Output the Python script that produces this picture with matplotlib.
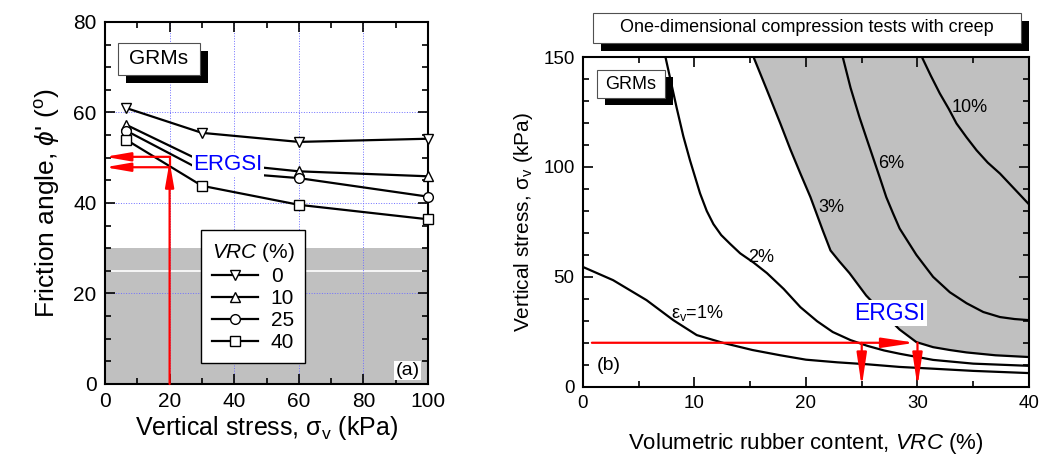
import matplotlib
matplotlib.use("Agg")
import matplotlib.pyplot as plt
from matplotlib.patches import Rectangle
from matplotlib.ticker import MultipleLocator

plt.rcParams['font.family'] = ['Liberation Sans', 'DejaVu Sans']
plt.rcParams['mathtext.fontset'] = 'custom'
plt.rcParams['mathtext.rm'] = 'Liberation Sans'
plt.rcParams['mathtext.it'] = 'Liberation Sans:italic'

# (a) friction angle vs vertical stress
stress = [6.5, 30, 60, 100]
phi_vrc0 = [61.0, 55.5, 53.5, 54.2]
phi_vrc10 = [57.3, 49.2, 47.0, 45.9]
phi_vrc25 = [56.0, 47.2, 45.5, 41.4]
phi_vrc40 = [54.0, 43.8, 39.6, 36.4]
vrc_labels = ['0', '10', '25', '40']
vrc_markers = ['v', '^', 'o', 's']

# (b) creep strain contours, VRC (%) vs vertical stress (kPa)
e1_x = [0, 2.7, 5.7, 8.1, 10.2, 12.6, 15.2, 17.7, 20.0, 22.8, 25.5, 28.4, 31.4, 35, 40]
e1_y = [54.5, 48.5, 39.4, 30.3, 23.5, 19.9, 16.7, 14.3, 12.3, 11.1, 10.2, 9.0, 8.2, 7.2, 6.2]
e2_x = [7.4, 8.4, 9.0, 9.6, 10.5, 11.1, 11.7, 12.4, 13.2, 14.1, 15.3, 16.5, 18.0, 19.5,
        21.0, 22.4, 24.0, 25.5, 27.0, 28.4, 31.4, 35, 40]
e2_y = [150, 127, 114, 103, 88, 80, 74, 69, 65, 60.7, 56.5, 51.7, 44.5, 36.2,
        29.8, 24.9, 21.2, 18.6, 16.5, 15.0, 12.2, 10.5, 9.5]
e3_x = [15.3, 16.5, 17.7, 18.6, 19.5, 20.4, 21.5, 22.2, 23.0, 23.9, 25.4, 26.9, 28.4,
        29.9, 31.4, 32.9, 34.4, 37.0, 40]
e3_y = [150, 135, 119.8, 108, 97, 86.3, 71.2, 62, 57, 51.7, 41.5, 33.5, 26.0,
        20.3, 18.0, 16.7, 15.6, 14.3, 13.5]
e6_x = [23.3, 24.0, 24.8, 25.4, 26.0, 26.6, 27.2, 27.8, 28.4, 29.9, 31.4, 32.9, 34.4, 35.9,
        37.4, 38.7, 40]
e6_y = [150, 136, 122.6, 113.5, 104.5, 95.5, 86.3, 79, 72, 60, 50, 43, 38, 34,
        31.7, 30.8, 30.3]
e10_x = [30.4, 31.2, 32.0, 32.8, 33.5, 34.4, 35.3, 36.3, 37.4, 38.7, 40]
e10_y = [150, 141.5, 133.5, 126.5, 119.8, 113.5, 107.6, 102, 97, 90, 83]

GRAY = '#c0c0c0'
RED = '#ff0000'

fig = plt.figure(figsize=(10.47, 4.59), dpi=100)
ax1 = fig.add_axes([0.1003, 0.1634, 0.3085, 0.7887])
ax2 = fig.add_axes([0.5568, 0.1575, 0.4260, 0.7180])


def box_with_shadow(ax, x0, y0, x1, y1, dx, dy, transform):
    ax.add_patch(Rectangle((x0 + dx, y0 - dy), x1 - x0, y1 - y0, transform=transform,
                           facecolor='black', edgecolor='none', zorder=8, clip_on=False))
    ax.add_patch(Rectangle((x0, y0), x1 - x0, y1 - y0, transform=transform,
                           facecolor='white', edgecolor='#505050', lw=0.8, zorder=9, clip_on=False))


def style_ticks(ax, size):
    ax.tick_params(which='both', direction='in', top=True, right=True, labelsize=size, width=1.2)
    ax.tick_params(which='major', length=7, pad=6)
    ax.tick_params(which='minor', length=4)
    for s in ax.spines.values():
        s.set_linewidth(1.5)


def red_arrow(ax, start, end, hl, hw):
    ax.annotate('', xy=end, xytext=start,
                arrowprops=dict(arrowstyle='-|>,head_length=%g,head_width=%g' % (hl, hw), color=RED,
                                lw=1.6, mutation_scale=20, shrinkA=0, shrinkB=0), zorder=4)


# ---- panel (a) ----
ax1.axhspan(0, 30, color=GRAY, lw=0, zorder=0)
ax1.axhline(25, color='white', lw=1.2, zorder=0.5)
for gx in [20, 40, 60, 80]:
    ax1.axvline(gx, color='#6f6fff', lw=0.7, ls=':', zorder=1)
for gy in [20, 40, 60]:
    ax1.axhline(gy, color='#6f6fff', lw=0.7, ls=':', zorder=1)

for ys, lab, mk in zip([phi_vrc0, phi_vrc10, phi_vrc25, phi_vrc40], vrc_labels, vrc_markers):
    ax1.plot(stress, ys, color='black', lw=1.6, marker=mk, ms=7, mfc='white', mec='black',
             mew=1.0, label=lab, zorder=3, clip_on=False)

# red arrows
red_arrow(ax1, (20, 0), (20, 49.2), 0.75, 0.13)
ax1.plot([20, 20], [48.5, 50.2], color=RED, lw=1.6, zorder=4)
red_arrow(ax1, (20, 50.2), (0, 50.2), 0.75, 0.13)
red_arrow(ax1, (20, 47.9), (0, 47.9), 0.75, 0.13)

ax1.text(38, 48.4, 'ERGSI', color='#0000ff', fontsize=16, ha='center', va='center', zorder=6,
         bbox=dict(facecolor='white', edgecolor='none', pad=1))
ax1.text(97.5, 3, '(a)', fontsize=14, ha='right', va='center', zorder=6,
         bbox=dict(facecolor='white', edgecolor='none', pad=1))

box_with_shadow(ax1, 0.040, 0.854, 0.294, 0.942, 0.024, 0.022, ax1.transAxes)
ax1.text(0.167, 0.898, 'GRMs', transform=ax1.transAxes, fontsize=15, ha='center', va='center', zorder=10)

leg = ax1.legend(title=r'$\mathit{VRC}$ (%)', loc='lower left', bbox_to_anchor=(0.266, 0.03),
                 fontsize=15, title_fontsize=15, frameon=True, fancybox=False, edgecolor='black',
                 framealpha=1, handlelength=2.2, borderpad=0.5, labelspacing=0.15, handletextpad=0.6)
leg.get_frame().set_linewidth(1.0)
leg.set_zorder(7)

ax1.set_xlim(0, 100)
ax1.set_ylim(0, 80)
ax1.xaxis.set_major_locator(MultipleLocator(20))
ax1.xaxis.set_minor_locator(MultipleLocator(10))
ax1.yaxis.set_major_locator(MultipleLocator(20))
ax1.yaxis.set_minor_locator(MultipleLocator(5))
style_ticks(ax1, 15)
ax1.set_xlabel('Vertical stress, σ$_\\mathrm{v}$ (kPa)', fontsize=18, labelpad=2)
ax1.set_ylabel("Friction angle, $\\mathit{\\phi}$' ($^\\mathrm{o}$)", fontsize=19, labelpad=8)

# ---- panel (b) ----
ax2.fill_betweenx(e3_y, e3_x, 40, color=GRAY, lw=0, zorder=0)
for cx, cy in [(e1_x, e1_y), (e2_x, e2_y), (e3_x, e3_y), (e6_x, e6_y), (e10_x, e10_y)]:
    ax2.plot(cx, cy, color='black', lw=1.6, zorder=3, solid_joinstyle='round')

red_arrow(ax2, (0.8, 20), (29.8, 20), 1.0, 0.15)
for vx in [25, 30]:
    red_arrow(ax2, (vx, 20), (vx, 0), 1.0, 0.15)

ax2.text(34.7, 127, '10%', fontsize=13, ha='center', va='center', zorder=5)
ax2.text(27.6, 101.6, '6%', fontsize=13, ha='center', va='center', zorder=5)
ax2.text(22.3, 81.7, '3%', fontsize=13, ha='center', va='center', zorder=5)
ax2.text(16.0, 59.0, '2%', fontsize=13, ha='center', va='center', zorder=5)
ax2.text(10.3, 33.5, 'ε$_\\mathrm{v}$=1%', fontsize=13, ha='center', va='center', zorder=5)
ax2.text(2.3, 9.6, '(b)', fontsize=14, ha='center', va='center', zorder=5)
ax2.text(27.5, 33.5, 'ERGSI', color='#0000ff', fontsize=16.5, ha='center', va='center', zorder=6,
         bbox=dict(facecolor='white', edgecolor='none', pad=1))

box_with_shadow(ax2, 0.031, 0.876, 0.184, 0.961, 0.018, 0.020, ax2.transAxes)
ax2.text(0.1075, 0.918, 'GRMs', transform=ax2.transAxes, fontsize=13, ha='center', va='center', zorder=10)

ax2.set_xlim(0, 40)
ax2.set_ylim(0, 150)
ax2.xaxis.set_major_locator(MultipleLocator(10))
ax2.xaxis.set_minor_locator(MultipleLocator(5))
ax2.yaxis.set_major_locator(MultipleLocator(50))
ax2.yaxis.set_minor_locator(MultipleLocator(10))
style_ticks(ax2, 13.5)
ax2.set_xlabel('Volumetric rubber content, $\\mathit{VRC}$ (%)', fontsize=16, labelpad=14)
ax2.set_ylabel('Vertical stress, σ$_\\mathrm{v}$ (kPa)', fontsize=15, labelpad=6)

# title box above panel (b)
fax = fig.add_axes([0, 0, 1, 1], facecolor='none')
fax.set_axis_off()
fax.add_patch(Rectangle((0.574, 0.889), 0.409, 0.065, transform=fig.transFigure,
                        facecolor='black', edgecolor='none'))
fax.add_patch(Rectangle((0.566, 0.906), 0.409, 0.066, transform=fig.transFigure,
                        facecolor='white', edgecolor='#505050', lw=0.8))
fax.text(0.7705, 0.939, 'One-dimensional compression tests with creep', transform=fig.transFigure,
         fontsize=13, ha='center', va='center')

fig.savefig('out.png', dpi=100)
